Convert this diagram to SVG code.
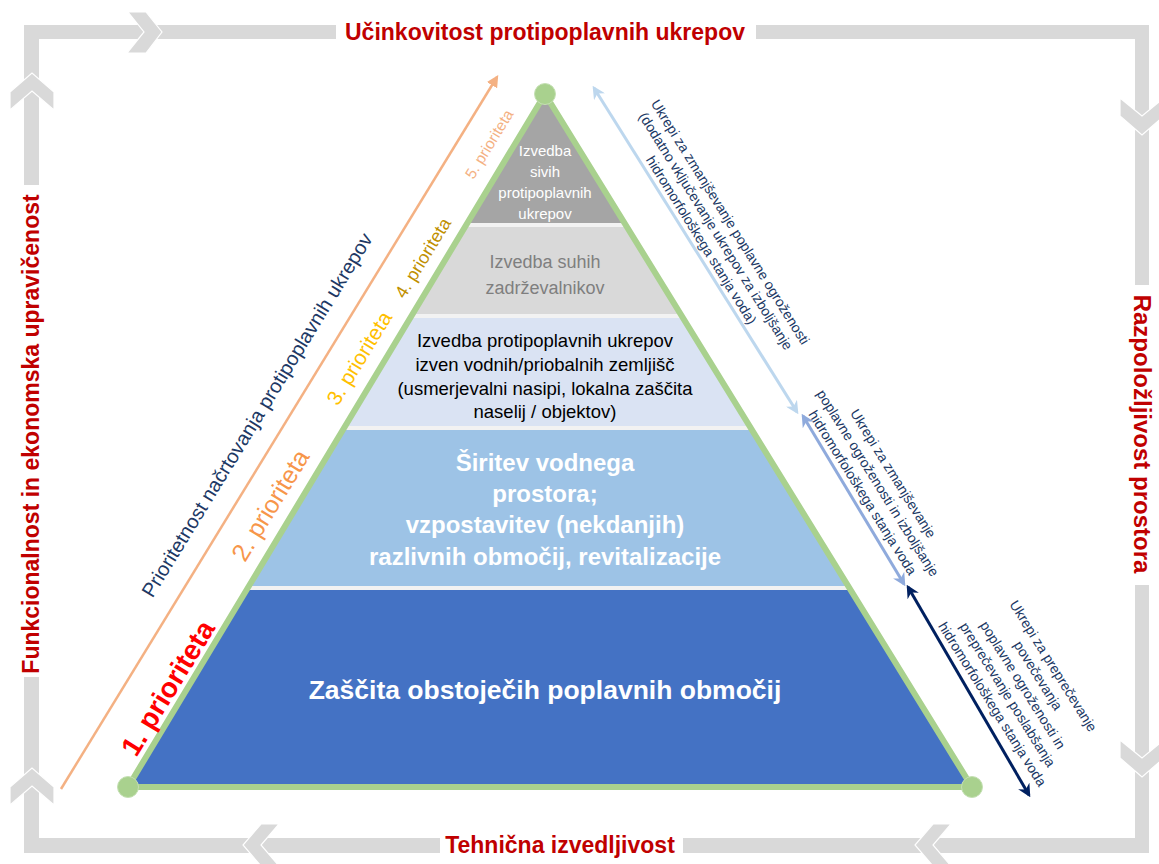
<svg xmlns="http://www.w3.org/2000/svg" width="1159" height="864" viewBox="0 0 1159 864">
<style>
.band{fill:#D9D9D9}
.chev{fill:#D9D9D9;stroke:#FFFFFF;stroke-width:1.2}
.side{font-family:"Liberation Sans",Arial,sans-serif;font-weight:bold;fill:#C00000;font-size:23px}
.t{font-family:"Liberation Sans",Arial,sans-serif;text-anchor:middle;dominant-baseline:central}
.b{font-weight:bold}
.note{font-family:"Liberation Sans",Arial,sans-serif;font-size:14px;fill:#203864;text-anchor:middle;dominant-baseline:central}
</style>
<defs>
<clipPath id="tri"><polygon points="545,94 128,787 972,787"/></clipPath>
<marker id="mOr" viewBox="0 0 10 10" refX="8" refY="5" markerWidth="12" markerHeight="12" markerUnits="userSpaceOnUse" orient="auto-start-reverse"><path d="M0,0 L10,5 L0,10 z" fill="#F4B183"/></marker>
<marker id="mLb" viewBox="0 0 10 10" refX="8" refY="5" markerWidth="13" markerHeight="13" markerUnits="userSpaceOnUse" orient="auto-start-reverse"><path d="M0,0 L10,5 L0,10 L3,5 z" fill="#BDD7EE"/></marker>
<marker id="mMb" viewBox="0 0 10 10" refX="8" refY="5" markerWidth="13" markerHeight="13" markerUnits="userSpaceOnUse" orient="auto-start-reverse"><path d="M0,0 L10,5 L0,10 L3,5 z" fill="#8FAADC"/></marker>
<marker id="mNv" viewBox="0 0 10 10" refX="8" refY="5" markerWidth="13" markerHeight="13" markerUnits="userSpaceOnUse" orient="auto-start-reverse"><path d="M0,0 L10,5 L0,10 L3,5 z" fill="#002060"/></marker>
</defs>
<rect width="1159" height="864" fill="#FFFFFF"/>

<g id="frame">
<rect class="band" x="24" y="25" width="312" height="14"/>
<rect class="band" x="756" y="25" width="393" height="14"/>
<rect class="band" x="1135" y="25" width="14" height="260"/>
<rect class="band" x="1135" y="585" width="14" height="268"/>
<rect class="band" x="24" y="838" width="416" height="15"/>
<rect class="band" x="683" y="838" width="466" height="15"/>
<rect class="band" x="24" y="25" width="15" height="160"/>
<rect class="band" x="24" y="677" width="15" height="176"/>
<polygon class="chev" points="128,12 146,12 162,32 146,53 127,53 144,32"/>
<polygon class="chev" points="1120,98 1142,116 1164,98 1164,116 1142,135 1120,116"/>
<polygon class="chev" points="1120,740 1142,758 1164,740 1164,758 1142,777 1120,758"/>
<polygon class="chev" points="951,824 933,824 915,845 933,866 951,866 933,845"/>
<polygon class="chev" points="279,824 261,824 243,845 261,866 279,866 261,845"/>
<polygon class="chev" points="10,805 10,787 32,768 54,787 54,805 32,786"/>
<polygon class="chev" points="10,110 10,92 32,73 54,92 54,110 32,91"/>
<text class="side t" x="545" y="32">Učinkovitost protipoplavnih ukrepov</text>
<text class="side t" x="560" y="845">Tehnična izvedljivost</text>
<text class="side t" transform="translate(31,434) rotate(-90)">Funkcionalnost in ekonomska upravičenost</text>
<text class="side t" style="font-size:24px" transform="translate(1142,434) rotate(90)">Razpoložljivost prostora</text>
</g>

<g id="pyramid">
<g clip-path="url(#tri)">
<rect x="100" y="90" width="900" height="135" fill="#A5A5A5"/>
<rect x="100" y="225" width="900" height="91" fill="#D9D9D9"/>
<rect x="100" y="316" width="900" height="112" fill="#DAE3F3"/>
<rect x="100" y="428" width="900" height="160" fill="#9DC3E6"/>
<rect x="100" y="588" width="900" height="200" fill="#4472C4"/>
<g stroke="#F2F2F2" stroke-width="4">
<line x1="100" y1="225" x2="1000" y2="225"/>
<line x1="100" y1="316" x2="1000" y2="316"/>
<line x1="100" y1="428" x2="1000" y2="428"/>
<line x1="100" y1="588" x2="1000" y2="588"/>
</g>
</g>
<polygon points="545,94 128,787 972,787" fill="none" stroke="#A9D18E" stroke-width="6" stroke-linejoin="round"/>
<circle cx="545" cy="94" r="10.5" fill="#A9D18E" stroke="#C5E0B4" stroke-width="1"/>
<circle cx="128" cy="787" r="10.5" fill="#A9D18E" stroke="#C5E0B4" stroke-width="1"/>
<circle cx="972" cy="787" r="10.5" fill="#A9D18E" stroke="#C5E0B4" stroke-width="1"/>
</g>

<g id="level5">
<text class="t" font-size="15" fill="#FFFFFF"><tspan x="545" y="150">Izvedba</tspan><tspan x="545" y="171">sivih</tspan><tspan x="545" y="192">protipoplavnih</tspan><tspan x="545" y="213">ukrepov</tspan></text>
</g>
<g id="level4">
<text class="t" font-size="18" fill="#7F7F7F"><tspan x="545" y="262">Izvedba suhih</tspan><tspan x="545" y="288">zadrževalnikov</tspan></text>
</g>
<g id="level3">
<text class="t" font-size="18.5" fill="#000000"><tspan x="545" y="340">Izvedba protipoplavnih ukrepov</tspan><tspan x="545" y="364">izven vodnih/priobalnih zemljišč</tspan><tspan x="545" y="388">(usmerjevalni nasipi, lokalna zaščita</tspan><tspan x="545" y="411">naselij / objektov)</tspan></text>
</g>
<g id="level2">
<text class="t b" font-size="24" fill="#FFFFFF"><tspan x="545" y="462">Širitev vodnega</tspan><tspan x="545" y="493">prostora;</tspan><tspan x="545" y="524">vzpostavitev (nekdanjih)</tspan><tspan x="545" y="556">razlivnih območij, revitalizacije</tspan></text>
</g>
<g id="level1">
<text class="t b" font-size="26.5" fill="#FFFFFF" x="545" y="690">Zaščita obstoječih poplavnih območij</text>
</g>

<g id="connectors">
<line x1="61" y1="789" x2="497" y2="77" stroke="#F4B183" stroke-width="2.5" marker-end="url(#mOr)"/>
<line x1="594" y1="88" x2="797" y2="412" stroke="#BDD7EE" stroke-width="3" marker-start="url(#mLb)" marker-end="url(#mLb)"/>
<line x1="803" y1="416" x2="904" y2="584" stroke="#8FAADC" stroke-width="3" marker-start="url(#mMb)" marker-end="url(#mMb)"/>
<line x1="908" y1="587" x2="1029" y2="795" stroke="#002060" stroke-width="3" marker-start="url(#mNv)" marker-end="url(#mNv)"/>
</g>

<g id="priorities">
<text class="t" font-size="20" fill="#203864" transform="translate(257,415) rotate(-58.5)">Prioritetnost načrtovanja protipoplavnih ukrepov</text>
<text class="t b" font-size="28" fill="#FF0000" transform="translate(168,688) rotate(-58.5)">1. prioriteta</text>
<text class="t" font-size="25" fill="#F7964A" transform="translate(270,505) rotate(-58.5)">2. prioriteta</text>
<text class="t" font-size="21" fill="#FFC000" transform="translate(359,358) rotate(-58.5)">3. prioriteta</text>
<text class="t" font-size="18" fill="#BF9000" transform="translate(423,258) rotate(-58.5)">4. prioriteta</text>
<text class="t" font-size="15.5" fill="#F4B183" transform="translate(489,144) rotate(-58.5)">5. prioriteta</text>
</g>

<g id="notes">
<g transform="translate(716,231) rotate(58)">
<text class="note"><tspan x="0" y="-17">Ukrepi za zmanjševanje poplavne ogroženosti</tspan><tspan x="0" y="0">(dodatno vključevanje ukrepov za izboljšanje</tspan><tspan x="0" y="17">hidromorfološkega stanja voda)</tspan></text>
</g>
<g transform="translate(878,483) rotate(58)">
<text class="note"><tspan x="0" y="-18">Ukrepi za zmanjševanje</tspan><tspan x="0" y="0">poplavne ogroženosti in izboljšanje</tspan><tspan x="0" y="18">hidromorfološkega stanja voda</tspan></text>
</g>
<g transform="translate(1023,685) rotate(58)">
<text class="note"><tspan x="0" y="-36">Ukrepi za preprečevanje</tspan><tspan x="0" y="-18">povečevanja</tspan><tspan x="0" y="0">poplavne ogroženosti in</tspan><tspan x="0" y="18">preprečevanje poslabšanja</tspan><tspan x="0" y="36">hidromorfološkega stanja voda</tspan></text>
</g>
</g>
</svg>
